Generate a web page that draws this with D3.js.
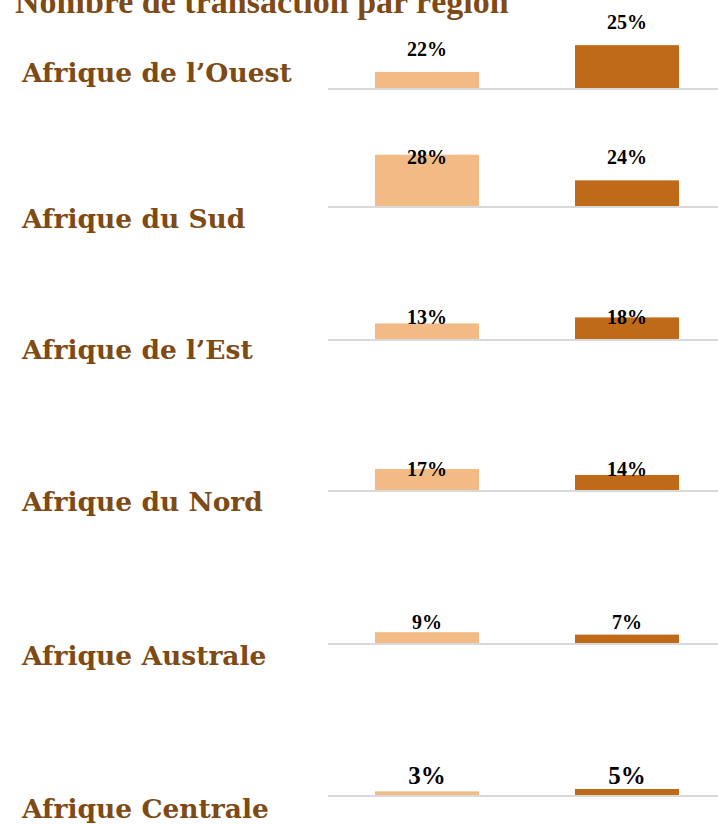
<!DOCTYPE html>
<html><head><meta charset="utf-8">
<script src="https://cdn.jsdelivr.net/npm/d3@7"></script>
<style>body{margin:0;background:#fff}svg{display:block}</style>
</head><body>
<script>
// ---- data ----
const regions = ["Afrique de l’Ouest","Afrique du Sud","Afrique de l’Est","Afrique du Nord","Afrique Australe","Afrique Centrale"];
const series = ["s1","s2"];
const seriesA = [22, 28, 13, 17, 9, 3];
const seriesB = [25, 24, 18, 14, 7, 5];
// per-panel value axis
const axisMin = [20.2, 20, 0, 6.5, 0, 0];
const axisMax = [25.8, 27.8, 41.7, 31.5, 41.7, 41.7];
const title = "Nombre de transaction par région";

// ---- layout ----
const W = 718, Hh = 824;
const baseY = [88, 206, 339, 490, 643, 795];
const catY = [82, 228, 359, 511, 665, 818];
const labelFloor = [200, 42, 15, 14, 14, 11];
const labelSize = [20, 20, 20, 20, 20, 25];
const plotH = 50;
const colors = {s1:"#F2BB86", s2:"#BF6A18"};
const brown = "#7E4A15";

const svg = d3.select("body").append("svg").attr("width", W).attr("height", Hh);

svg.append("text").attr("x", 15).attr("y", 13)
  .attr("font-family", "Liberation Serif, serif").attr("font-weight", "bold")
  .attr("font-size", 34).attr("fill", brown).text(title);

const x = d3.scaleBand().domain(series).range([327, 727]).paddingInner(0.48).paddingOuter(0.24);

regions.forEach((r, i) => {
  const B = baseY[i];
  const y = d3.scaleLinear().domain([axisMin[i], axisMax[i]]).range([B, B - plotH]);
  const g = svg.append("g");
  const vals = [{k:"s1", v:seriesA[i]}, {k:"s2", v:seriesB[i]}];

  g.append("line").attr("x1", 328).attr("x2", W).attr("y1", B + 1).attr("y2", B + 1)
    .attr("stroke", "#D9D9D9").attr("stroke-width", 2);

  g.selectAll("rect").data(vals).enter().append("rect")
    .attr("x", d => x(d.k)).attr("width", x.bandwidth())
    .attr("y", d => y(d.v)).attr("height", d => B - y(d.v))
    .attr("fill", d => colors[d.k]);

  g.selectAll("text.v").data(vals).enter().append("text").attr("class", "v")
    .attr("x", d => x(d.k) + x.bandwidth() / 2)
    .attr("y", d => Math.max(y(d.v) - 16, B - labelFloor[i]))
    .attr("text-anchor", "middle")
    .attr("font-family", "Liberation Serif, serif").attr("font-weight", "bold")
    .attr("font-size", labelSize[i]).attr("fill", "#000")
    .text(d => d.v + "%");

  g.append("text").attr("x", 22).attr("y", catY[i])
    .attr("font-family", "DejaVu Serif, serif").attr("font-weight", "bold")
    .attr("font-size", 26.5).attr("fill", brown).text(r);
});
</script>
</body></html>
